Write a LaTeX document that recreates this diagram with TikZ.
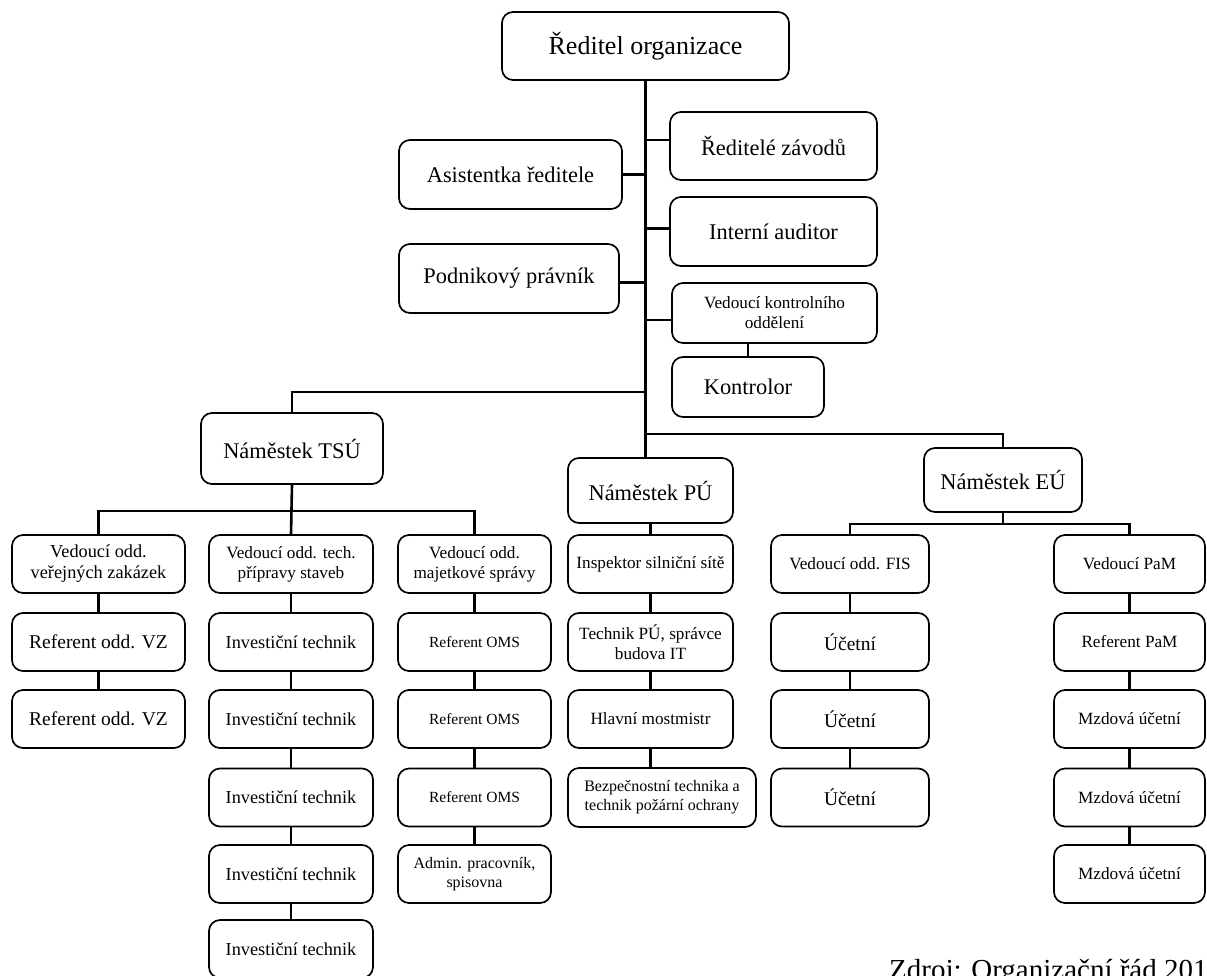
\documentclass[tikz,border=0pt]{standalone}
\usepackage{fontspec}
\setmainfont{Liberation Serif}
\usepackage{tikz}

\begin{document}
\begin{tikzpicture}[x=1pt,y=-1pt]
                \tikzstyle{every node}+=[inner sep=0pt]
                \tikzstyle{box}=[draw=black, line width=1.7pt, rounded corners=11pt, align=center, fill=white]
                \tikzstyle{link}=[black, line width=2.6pt]
                \tikzstyle{hugetext}=[font=\fontsize{26}{30}\selectfont]
                \tikzstyle{bigtext}=[font=\fontsize{22.4}{26}\selectfont]
                \tikzstyle{midtext}=[font=\fontsize{19.5}{22}\selectfont]
                \tikzstyle{normtext}=[font=\fontsize{18.3}{21}\selectfont]
                \tikzstyle{smalltext}=[font=\fontsize{17.2}{20}\selectfont]
                \tikzstyle{tinytext}=[font=\fontsize{16}{19}\selectfont]
                \useasboundingbox (0,0) rectangle (1207,975);
                \clip (0,0) rectangle (1207,975);
                \fill [white] (0,0) rectangle (1207,975);
                % vedeni
                \node [box, hugetext, minimum width=287, minimum height=68] (red) at (645.5,46) {Ředitel organizace};
                \node [box, bigtext, minimum width=207, minimum height=68] (zav) at (773.5,146) {Ředitelé závodů};
                \node [box, bigtext, minimum width=223, minimum height=69] (asi) at (510.5,174.5) {Asistentka ředitele};
                \node [box, bigtext, minimum width=207, minimum height=69] (aud) at (773.5,231.5) {Interní auditor};
                \node [box, bigtext, minimum width=220, minimum height=69] (pra) at (509,278.5) {Podnikový právník};
                \node [box, smalltext, minimum width=205, minimum height=60] (vko) at (774.5,313) {Vedoucí kontrolního\\oddělení};
                \node [box, bigtext, minimum width=152, minimum height=60] (ktr) at (748,387) {Kontrolor};
                \node [box, bigtext, minimum width=182, minimum height=71] (tsu) at (292,448.5) {Náměstek TSÚ};
                \node [box, bigtext, minimum width=165, minimum height=65] (pu) at (650.5,490.5) {Náměstek PÚ};
                \node [box, bigtext, minimum width=158, minimum height=64] (eu) at (1003,480) {Náměstek EÚ};
                % usek TSU
                \node [box, normtext, minimum width=173, minimum height=58] (vz) at (98.5,564) {Vedoucí odd.\\veřejných zakázek};
                \node [box, midtext, minimum width=173, minimum height=58] (vz1) at (98.5,642) {Referent odd. VZ};
                \node [box, midtext, minimum width=173, minimum height=58] (vz2) at (98.5,719) {Referent odd. VZ};
                \node [box, smalltext, minimum width=164, minimum height=58] (tech) at (291,564) {Vedoucí odd. tech.\\přípravy staveb};
                \node [box, normtext, minimum width=164, minimum height=58] (inv1) at (291,642) {Investiční technik};
                \node [box, normtext, minimum width=164, minimum height=58] (inv2) at (291,719) {Investiční technik};
                \node [box, normtext, minimum width=164, minimum height=58] (inv3) at (291,797.5) {Investiční technik};
                \node [box, normtext, minimum width=164, minimum height=58] (inv4) at (291,874) {Investiční technik};
                \node [box, normtext, minimum width=164, minimum height=58] (inv5) at (291,949) {Investiční technik};
                \node [box, smalltext, minimum width=153, minimum height=58] (maj) at (474.5,564) {Vedoucí odd.\\majetkové správy};
                \node [box, font=\fontsize{15.5}{18}\selectfont, minimum width=153, minimum height=58] (oms1) at (474.5,642) {Referent OMS};
                \node [box, font=\fontsize{15.5}{18}\selectfont, minimum width=153, minimum height=58] (oms2) at (474.5,719) {Referent OMS};
                \node [box, font=\fontsize{15.5}{18}\selectfont, minimum width=153, minimum height=58] (oms3) at (474.5,797.5) {Referent OMS};
                \node [box, tinytext, minimum width=153, minimum height=58] (adm) at (474.5,874) {Admin. pracovník,\\spisovna};
                % usek PU
                \node [box, smalltext, minimum width=165, minimum height=58] (insp) at (650.5,564) {Inspektor silniční sítě};
                \node [box, smalltext, minimum width=165, minimum height=58] (tpu) at (650.5,642) {Technik PÚ, správce\\budova IT};
                \node [box, smalltext, minimum width=165, minimum height=58] (hla) at (650.5,719) {Hlavní mostmistr};
                \node [box, tinytext, minimum width=188, minimum height=59] (bez) at (662,797.5) {Bezpečnostní technika a\\technik požární ochrany};
                % usek EU
                \node [box, smalltext, minimum width=158, minimum height=58] (fis) at (850,564) {Vedoucí odd. FIS};
                \node [box, midtext, minimum width=158, minimum height=58] (uc1) at (850,642) {Účetní};
                \node [box, midtext, minimum width=158, minimum height=58] (uc2) at (850,719) {Účetní};
                \node [box, midtext, minimum width=158, minimum height=58] (uc3) at (850,797.5) {Účetní};
                \node [box, smalltext, minimum width=151, minimum height=58] (pam) at (1129.5,564) {Vedoucí PaM};
                \node [box, smalltext, minimum width=151, minimum height=58] (rpam) at (1129.5,642) {Referent PaM};
                \node [box, smalltext, minimum width=151, minimum height=58] (mzd1) at (1129.5,719) {Mzdová účetní};
                \node [box, smalltext, minimum width=151, minimum height=58] (mzd2) at (1129.5,797.5) {Mzdová účetní};
                \node [box, smalltext, minimum width=151, minimum height=58] (mzd3) at (1129.5,874) {Mzdová účetní};
                \node [anchor=base west, font=\fontsize{29}{34}\selectfont] (zdroj) at (889,979) {Zdroj: Organizační řád 201};
                % spojnice
                \coordinate (jtsu) at (645.5,392);
                \coordinate (jeu) at (645.5,434);
                \draw [link] (red.south) -- (red.south |- pu.north);
                \draw [link] ([yshift=6pt]zav.west) -- ([yshift=6pt]zav.west -| red.south);
                \draw [link] ([yshift=3pt]aud.west) -- ([yshift=3pt]aud.west -| red.south);
                \draw [link] ([yshift=-7pt]vko.west) -- ([yshift=-7pt]vko.west -| red.south);
                \draw [link] (asi.east) -- (asi.east -| red.south);
                \draw [link] ([yshift=-4pt]pra.east) -- ([yshift=-4pt]pra.east -| red.south);
                \draw [link] (ktr.north) -- (ktr.north |- vko.south);
                \draw [link] (tsu.north) |- (jtsu);
                \draw [link] (jeu) -| (eu.north);
                \draw [link] (tsu.south) -- (tech.north);
                \draw [link] (vz.north) |- ([yshift=23pt]tech.north) -| (maj.north);
                \draw [link] (eu.south) -- ([yshift=-11pt]eu.south);
                \draw [link] (fis.north) |- ([yshift=-11pt]eu.south) -| (pam.north);
                \foreach \a/\b in {vz/vz1, vz1/vz2, tech/inv1, inv1/inv2, inv2/inv3, inv3/inv4, inv4/inv5,
                    maj/oms1, oms1/oms2, oms2/oms3, oms3/adm, pu/insp, insp/tpu, tpu/hla, hla/bez,
                    fis/uc1, uc1/uc2, uc2/uc3, pam/rpam, rpam/mzd1, mzd1/mzd2, mzd2/mzd3}
                  \draw [link] (\a.south) -- (\a.south |- \b.north);
              \end{tikzpicture}
\end{document}
